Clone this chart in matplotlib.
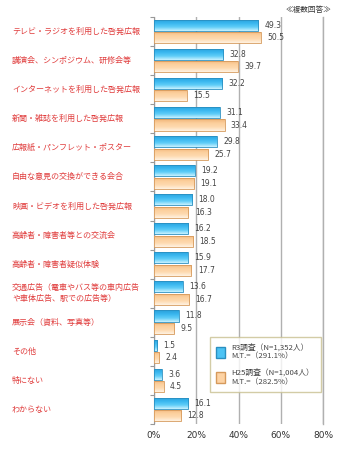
import numpy as np
import matplotlib.pyplot as plt
import matplotlib.transforms as mtransforms
from matplotlib.patches import Patch
from matplotlib.colors import LinearSegmentedColormap

plt.rcParams['font.family'] = ['Noto Sans CJK JP', 'DejaVu Sans']

categories = [
    "テレビ・ラジオを利用した啓発広報",
    "講演会、シンポジウム、研修会等",
    "インターネットを利用した啓発広報",
    "新聞・雑誌を利用した啓発広報",
    "広報紙・パンフレット・ポスター",
    "自由な意見の交換ができる会合",
    "映画・ビデオを利用した啓発広報",
    "高齢者・障害者等との交流会",
    "高齢者・障害者疑似体験",
    "交通広告（電車やバス等の車内広告\nや車体広告、駅での広告等）",
    "展示会（資料、写真等）",
    "その他",
    "特にない",
    "わからない",
]
r3 = [49.3, 32.8, 32.2, 31.1, 29.8, 19.2, 18.0, 16.2, 15.9, 13.6, 11.8, 1.5, 3.6, 16.1]
h25 = [50.5, 39.7, 15.5, 33.4, 25.7, 19.1, 16.3, 18.5, 17.7, 16.7, 9.5, 2.4, 4.5, 12.8]
r3_label = "R3調査（N=1,352人）\nM.T.=（291.1%）"
h25_label = "H25調査（N=1,004人）\nM.T.=（282.5%）"

blue = "#4cc3f4"
blue_edge = "#2a8fc0"
orange = "#fdd3a4"
orange_edge = "#d69a5c"
label_red = "#e03c3c"

blue_cmap = LinearSegmentedColormap.from_list("b", ["#c8f2ff", "#5fcdf8", "#38b6ef", "#2a9fd8"])
orange_cmap = LinearSegmentedColormap.from_list("o", ["#fff2e2", "#fedab0", "#fccf9c", "#f0b57a"])

fig = plt.figure(figsize=(3.44, 4.5), dpi=100)
ax = fig.add_axes([154 / 344, 1 - 424 / 450, 169 / 344, 407 / 450])

n = len(categories)
y = np.arange(n)
bh = 0.38
off = 0.215
bars_b = ax.barh(y - off, r3, height=bh, color=blue, edgecolor=blue_edge, linewidth=0.6, zorder=3)
bars_o = ax.barh(y + off, h25, height=bh, color=orange, edgecolor=orange_edge, linewidth=0.6, zorder=3)

grad = np.linspace(0, 1, 64).reshape(-1, 1)
for bars, cmap in [(bars_b, blue_cmap), (bars_o, orange_cmap)]:
    for p in bars:
        x0, y0 = p.get_x(), p.get_y()
        w, h = p.get_width(), p.get_height()
        im = ax.imshow(grad, cmap=cmap, aspect='auto', extent=(x0, x0 + w, y0, y0 + h),
                       origin='upper', zorder=3.5, interpolation='bilinear')
        im.set_clip_path(p)
        p.set_facecolor('none')
        p.set_zorder(4)

lab_tr = mtransforms.blended_transform_factory(fig.transFigure, ax.transData)
for i in range(n):
    ax.text(r3[i] + 3, y[i] - off, f"{r3[i]:.1f}", va='center', ha='left',
            fontsize=5.5, color="#444444", family='DejaVu Sans')
    ax.text(h25[i] + 3, y[i] + off, f"{h25[i]:.1f}", va='center', ha='left',
            fontsize=5.5, color="#444444", family='DejaVu Sans')
    ax.text(12 / 344, y[i], categories[i], transform=lab_tr,
            va='center', ha='left', fontsize=5.8, color=label_red, linespacing=1.3)

ax.set_xlim(0, 80)
ax.set_ylim(n - 0.5, -0.5)
ax.set_xticks([0, 20, 40, 60, 80])
ax.set_xticklabels(["0%", "20%", "40%", "60%", "80%"], fontsize=6.5, color="#333333",
                   family='DejaVu Sans')
ax.tick_params(axis='x', length=0, pad=5)
ax.set_yticks(np.arange(n + 1) - 0.5)
ax.set_yticklabels([])
ax.tick_params(axis='y', length=3, color="#999999", width=0.8)
ax.xaxis.grid(True, color="#b0b0b0", linewidth=1.0, zorder=0)
for s in ['top', 'bottom']:
    ax.spines[s].set_visible(False)
ax.spines['left'].set_color("#999999")
ax.spines['right'].set_color("#b0b0b0")
ax.spines['right'].set_linewidth(1.0)

fig.text(331 / 344, 1 - 10 / 450, "≪複数回答≫", ha='right', va='center', fontsize=5.5, color="#333333")

handles = [Patch(facecolor=blue, edgecolor=blue_edge, label=r3_label),
           Patch(facecolor=orange, edgecolor=orange_edge, label=h25_label)]
leg = ax.legend(handles=handles, loc='upper left', bbox_to_anchor=(206 / 344, 1 - 333 / 450),
                bbox_transform=fig.transFigure, fontsize=5.6, frameon=True, fancybox=False,
                handlelength=1.2, handleheight=1.8, labelspacing=1.0, borderpad=0.8)
leg.get_frame().set_edgecolor("#c8c090")
leg.get_frame().set_linewidth(1.0)
leg.set_zorder(10)
for t in leg.get_texts():
    t.set_color("#444444")

fig.savefig("out.png", dpi=100)
